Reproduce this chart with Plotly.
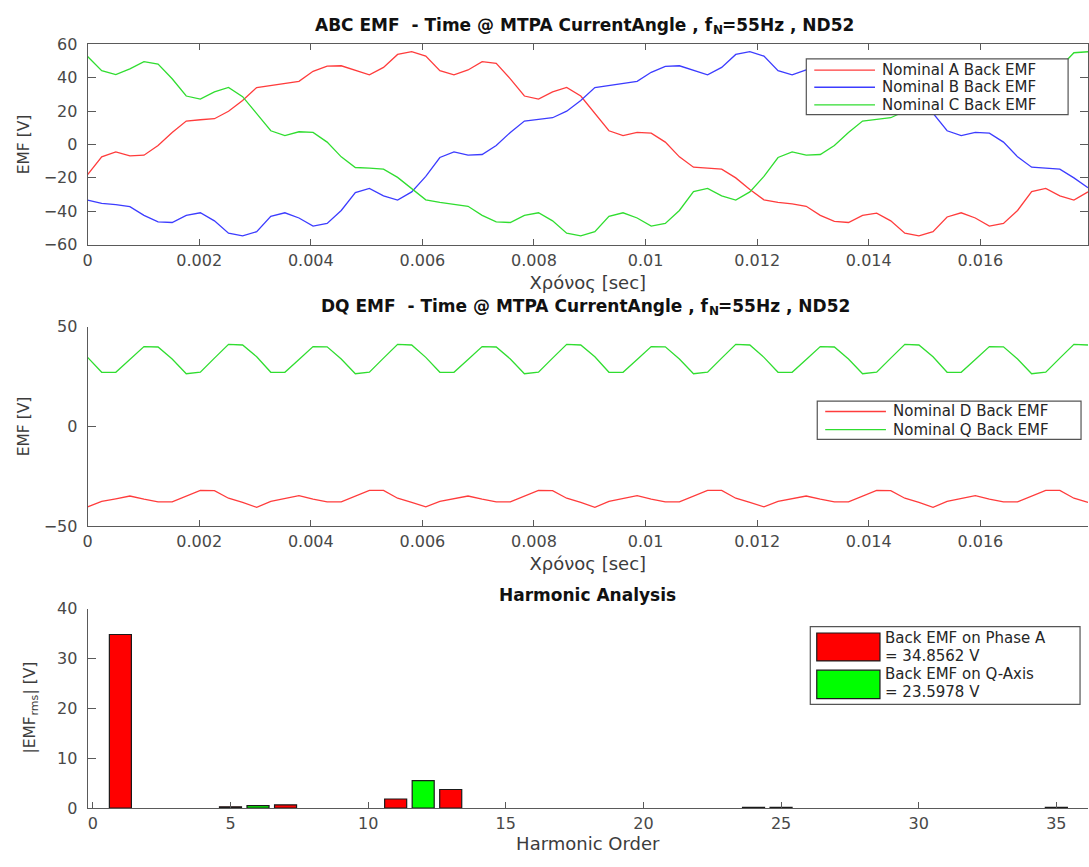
import plotly.graph_objects as go

# ---------------- data ----------------
F_N = 55.0                      # electrical frequency [Hz]
N_SAMPLES = 72                  # samples per electrical period
T = 1.0 / F_N
t = [k * T / N_SAMPLES for k in range(N_SAMPLES)]

emf_a = [-18.1, -7.4, -4.5, -6.8, -6.4, -0.6, 7.2, 14.0, 14.8, 15.4, 19.9, 26.3, 34.1, 35.4, 36.4, 37.8, 43.8, 46.9,
         47.1, 44.2, 41.7, 46.1, 53.9, 55.5, 52.9, 44.2, 41.7, 44.6, 49.6, 48.5, 39.3, 29.0, 27.1, 31.5, 34.1, 29.0,
         18.9, 8.2, 5.3, 7.2, 6.8, 1.4, -7.4, -13.6, -14.2, -14.8, -20.0, -26.9, -33.1, -34.6, -35.6, -37.0, -42.4, -46.0,
         -46.7, -42.4, -41.1, -45.7, -53.1, -54.7, -52.2, -43.4, -40.9, -44.0, -48.9, -47.3, -39.5, -28.2, -26.3, -30.8, -33.3, -28.4]

emf_b = [-33.3, -35.2, -36.0, -37.2, -42.4, -46.3, -46.7, -42.4, -40.9, -45.7, -53.1, -54.7, -52.2, -43.0, -40.9, -44.0, -48.9, -47.3,
         -39.5, -28.8, -26.3, -30.8, -33.3, -28.4, -19.1, -7.8, -4.5, -6.4, -6.0, -0.6, 7.2, 14.0, 15.0, 16.0, 19.9, 26.3,
         34.1, 35.4, 36.4, 37.8, 43.2, 46.7, 47.1, 44.2, 41.7, 46.1, 53.9, 55.5, 52.9, 44.2, 41.7, 44.6, 49.4, 48.4,
         39.4, 29.1, 27.2, 31.4, 34.0, 29.1, 18.9, 8.2, 5.3, 7.2, 6.8, 1.4, -7.4, -13.6, -14.2, -14.8, -20.0, -25.9]

emf_c = [52.6, 44.2, 41.8, 45.2, 49.6, 48.1, 39.3, 29.0, 27.1, 31.5, 34.1, 28.6, 18.5, 8.2, 5.3, 7.6, 7.2, 1.4,
         -7.4, -13.8, -14.2, -14.8, -19.7, -26.3, -33.1, -34.6, -35.6, -37.0, -42.4, -46.3, -46.7, -42.4, -40.9, -45.7, -53.1, -54.7,
         -52.2, -43.0, -40.9, -44.0, -48.9, -47.3, -39.5, -28.2, -26.3, -30.8, -33.3, -28.4, -19.1, -7.8, -4.5, -6.4, -6.0, -0.6,
         7.2, 14.0, 15.0, 16.0, 19.9, 26.3, 34.1, 35.4, 36.4, 37.8, 43.2, 46.7, 47.1, 44.2, 41.7, 46.1, 54.9, 55.5]

emf_d = [-40.3, -37.6, -36.3, -34.9, -36.5, -37.8, -37.8, -35.0, -32.1, -32.2, -36.0, -38.1,
         -40.6, -37.6, -36.3, -34.7, -36.5, -37.8, -37.8, -35.0, -32.1, -32.1, -36.0, -38.1,
         -40.3, -37.6, -36.3, -34.9, -36.5, -37.8, -37.8, -35.0, -32.1, -32.2, -36.0, -38.1,
         -40.6, -37.6, -36.3, -34.7, -36.5, -37.8, -37.8, -35.0, -32.1, -32.1, -36.0, -38.1,
         -40.3, -37.6, -36.3, -34.9, -36.5, -37.8, -37.8, -35.0, -32.1, -32.2, -36.0, -38.1,
         -40.6, -37.6, -36.3, -34.7, -36.5, -37.8, -37.8, -35.0, -32.1, -32.1, -36.0, -38.1]

emf_q = [34.7, 27.2, 27.2, 33.6, 40.1, 39.9, 33.9, 26.5, 27.3, 34.3, 41.2, 40.9,
         35.0, 27.2, 27.2, 33.6, 40.1, 40.0, 33.9, 26.5, 27.3, 34.3, 41.2, 40.9,
         34.7, 27.2, 27.2, 33.6, 40.1, 39.9, 33.9, 26.5, 27.3, 34.3, 41.2, 40.9,
         35.0, 27.2, 27.2, 33.6, 40.1, 40.0, 33.9, 26.5, 27.3, 34.3, 41.2, 40.9,
         34.7, 27.2, 27.2, 33.6, 40.1, 39.9, 33.9, 26.5, 27.3, 34.3, 41.2, 40.9,
         35.0, 27.2, 27.2, 33.6, 40.1, 40.0, 33.9, 26.5, 27.3, 34.3, 41.2, 40.9]

# harmonic spectra (rms values)
harm_a_order = [1, 5, 7, 11, 13, 25, 35]
harm_a_rms = [34.8562, 0.25, 0.65, 1.83, 3.73, 0.15, 0.15]
harm_q_order = [6, 12, 24]
harm_q_rms = [0.5, 5.5, 0.15]

time_ticks = [0, 0.002, 0.004, 0.006, 0.008, 0.01, 0.012, 0.014, 0.016]
time_tick_text = ["0", "0.002", "0.004", "0.006", "0.008", "0.01", "0.012", "0.014", "0.016"]
harm_ticks = [0, 5, 10, 15, 20, 25, 30, 35]

# ---------------- styling ----------------
W, H = 1089, 867
FONT = "DejaVu Sans, Verdana, sans-serif"
TICK_COLOR = "#484848"
AXIS_COLOR = "#5a5a5a"
LABEL_COLOR = "#3c3c3c"
TITLE_COLOR = "#111111"
RED, BLUE, GREEN = "#ff3c3c", "#3c3cff", "#30dd30"


def px(x):
    return x / W


def py(y):
    return 1 - y / H


X_DOM = [px(83), px(1088)]
TOP_DOM = [py(241), py(36)]
MID_DOM = [py(528.7), py(325)]
BOT_DOM = [py(817), py(613.3)]

fig = go.Figure()

# phase EMFs
fig.add_trace(go.Scatter(x=t, y=emf_a, mode="lines", line=dict(color=RED, width=1.3), xaxis="x", yaxis="y"))
fig.add_trace(go.Scatter(x=t, y=emf_b, mode="lines", line=dict(color=BLUE, width=1.3), xaxis="x", yaxis="y"))
fig.add_trace(go.Scatter(x=t, y=emf_c, mode="lines", line=dict(color=GREEN, width=1.3), xaxis="x", yaxis="y"))

# dq EMFs
fig.add_trace(go.Scatter(x=t, y=emf_d, mode="lines", line=dict(color=RED, width=1.3), xaxis="x2", yaxis="y2"))
fig.add_trace(go.Scatter(x=t, y=emf_q, mode="lines", line=dict(color=GREEN, width=1.3), xaxis="x2", yaxis="y2"))

# harmonic spectrum
fig.add_trace(go.Bar(x=harm_a_order, y=harm_a_rms, width=0.8,
                     marker=dict(color="#ff0000", line=dict(color="#1a1a1a", width=1.2)),
                     xaxis="x3", yaxis="y3"))
fig.add_trace(go.Bar(x=harm_q_order, y=harm_q_rms, width=0.8,
                     marker=dict(color="#00ff00", line=dict(color="#1a1a1a", width=1.2)),
                     xaxis="x3", yaxis="y3"))

tickfont = dict(family=FONT, size=16, color=TICK_COLOR)
xtitle_font = dict(family=FONT, size=18, color=LABEL_COLOR)
ytitle_font = dict(family=FONT, size=15.5, color=LABEL_COLOR)
common_x = dict(showgrid=False, zeroline=False, showline=True, linecolor=AXIS_COLOR, linewidth=1,
                ticks="inside", ticklen=6, tickcolor=AXIS_COLOR, tickfont=tickfont, ticklabelstandoff=1)
common_y = dict(showgrid=False, zeroline=False, showline=True, linecolor=AXIS_COLOR, linewidth=1,
                ticks="inside", ticklen=8, tickcolor=AXIS_COLOR, tickfont=tickfont, ticklabelstandoff=6)

fig.update_layout(
    width=W, height=H,
    margin=dict(l=0, r=0, t=0, b=0),
    paper_bgcolor="white", plot_bgcolor="white",
    showlegend=False,
    barmode="overlay",
    xaxis=dict(domain=X_DOM, anchor="y", range=[0, t[-1]], tickvals=time_ticks, ticktext=time_tick_text,
               mirror="ticks", title=dict(text="Χρόνος [sec]", font=xtitle_font, standoff=7), **common_x),
    yaxis=dict(domain=TOP_DOM, anchor="x", range=[-60, 60], tickvals=[-60, -40, -20, 0, 20, 40, 60],
               mirror="ticks", title=dict(text="EMF [V]", font=ytitle_font, standoff=10), **common_y),
    xaxis2=dict(domain=X_DOM, anchor="y2", range=[0, t[-1]], tickvals=time_ticks, ticktext=time_tick_text,
                title=dict(text="Χρόνος [sec]", font=xtitle_font, standoff=7), **common_x),
    yaxis2=dict(domain=MID_DOM, anchor="x2", range=[-50, 50], tickvals=[-50, 0, 50],
                title=dict(text="EMF [V]", font=ytitle_font, standoff=10), **common_y),
    xaxis3=dict(domain=X_DOM, anchor="y3", range=[-0.19, 36.15], tickvals=harm_ticks,
                title=dict(text="Harmonic Order", font=xtitle_font, standoff=5), **common_x),
    yaxis3=dict(domain=BOT_DOM, anchor="x3", range=[0, 40], tickvals=[0, 10, 20, 30, 40], **common_y),
)

annotations = []
shapes = []


def text(x, y, s, size=16, bold=False, anchor="center", yanchor="middle", angle=0, color="#262626"):
    annotations.append(dict(x=px(x), y=py(y), xref="paper", yref="paper", text=s, showarrow=False,
                            xanchor=anchor, yanchor=yanchor, textangle=angle, borderpad=0,
                            font=dict(family=FONT, size=size, color=color, weight="bold" if bold else "normal")))


def subscripted_title(x_split, y, head, sub, tail, sub_width=9):
    """Bold title with a subscript: head ends at x_split, subscript and tail follow it."""
    text(x_split, y, head, size=17, bold=True, anchor="right", color=TITLE_COLOR)
    text(x_split - 2, y + 5, sub, size=12, bold=True, anchor="left", color=TITLE_COLOR)
    text(x_split - 2 + sub_width, y, tail, size=17, bold=True, anchor="left", color=TITLE_COLOR)


# subplot titles
subscripted_title(712, 16, "ABC EMF\u00a0 - Time @ MTPA CurrentAngle , f", "N", "=55Hz , ND52")
subscripted_title(708, 304, "DQ EMF\u00a0 - Time @ MTPA CurrentAngle , f", "N", "=55Hz , ND52")
text(585.5, 599, "Harmonic Analysis", size=17, bold=True, color=TITLE_COLOR)

# y title of the spectrum: |EMF_rms| [V], written bottom-to-top
Y_SPLIT = 722
text(25, Y_SPLIT, "|EMF", size=15.5, angle=-90, yanchor="top", color=LABEL_COLOR)
text(29.5, Y_SPLIT + 1.5, "rms", size=11, angle=-90, yanchor="bottom", color=LABEL_COLOR)
text(25, Y_SPLIT - 20.5, "| [V]", size=15.5, angle=-90, yanchor="bottom", color=LABEL_COLOR)


def legend_box(x0, y0, x1, y1):
    shapes.append(dict(type="rect", xref="paper", yref="paper", x0=px(x0), x1=px(x1), y0=py(y1), y1=py(y0),
                       fillcolor="white", line=dict(color="#555555", width=1.2), layer="above"))


def legend_line(x0, x1, y, color):
    shapes.append(dict(type="line", xref="paper", yref="paper", x0=px(x0), x1=px(x1), y0=py(y), y1=py(y),
                       line=dict(color=color, width=1.3), layer="above"))


def legend_patch(x0, y0, x1, y1, color):
    shapes.append(dict(type="rect", xref="paper", yref="paper", x0=px(x0), x1=px(x1), y0=py(y1), y1=py(y0),
                       fillcolor=color, line=dict(color="#1a1a1a", width=1.2), layer="above"))


LEG_SIZE = 15

# legend: phase EMFs
legend_box(805, 51, 1068, 108)
for yy, col, lab in [(62.5, RED, "Nominal A Back EMF"), (80, BLUE, "Nominal B Back EMF"), (98, GREEN, "Nominal C Back EMF")]:
    legend_line(813, 874, yy, col)
    text(880, yy, lab, size=LEG_SIZE, anchor="left")

# legend: dq EMFs
legend_box(816, 401, 1081, 440)
for yy, col, lab in [(411.5, RED, "Nominal D Back EMF"), (430, GREEN, "Nominal Q Back EMF")]:
    legend_line(824, 885, yy, col)
    text(891, yy, lab, size=LEG_SIZE, anchor="left")

# legend: harmonic spectrum
legend_box(809, 631.5, 1080, 711)
legend_patch(815.5, 638, 879, 666.5, "#ff0000")
legend_patch(815.5, 676, 879, 705, "#00ff00")
text(883, 643, "Back EMF on Phase A", size=LEG_SIZE, anchor="left")
text(883, 661, "= 34.8562 V", size=LEG_SIZE, anchor="left")
text(883, 680, "Back EMF on Q-Axis", size=LEG_SIZE, anchor="left")
text(883, 698, "= 23.5978 V", size=LEG_SIZE, anchor="left")

fig.update_layout(annotations=annotations, shapes=shapes)

fig.write_html("out.html")
